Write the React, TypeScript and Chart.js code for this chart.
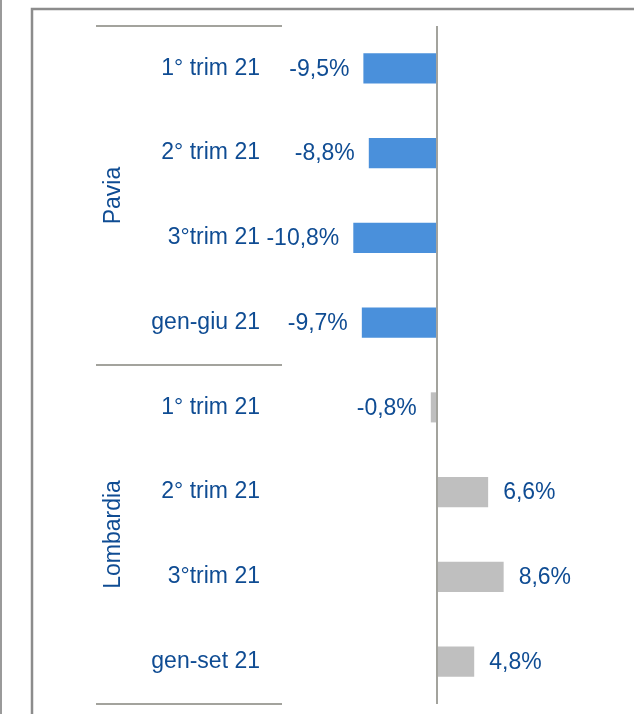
import React, { useEffect, useRef } from "react";
import { Chart, registerables } from "chart.js";

Chart.register(...registerables);

const categories = [
  "1° trim 21",
  "2° trim 21",
  "3°trim 21",
  "gen-giu 21",
  "1° trim 21",
  "2° trim 21",
  "3°trim 21",
  "gen-set 21",
];
const groups = ["Pavia", "Lombardia"];
const groupSizes = [4, 4];
const values = [-9.5, -8.8, -10.8, -9.7, -0.8, 6.6, 8.6, 4.8];

const FONT = '"Liberation Sans", Arial, sans-serif';
const TEXT = "#0F4C93";
const BLUE = "#4A90DB";
const GRAY = "#BFBFBF";
const LINE = "#A3A39D";

const fmt = (v: number) => v.toFixed(1).replace(".", ",") + "%";

const decorPlugin = {
  id: "decor",
  afterDatasetsDraw(chart: any) {
    const { ctx, chartArea, scales } = chart;
    const x = scales.x;
    const y = scales.y;
    ctx.save();
    // frame
    ctx.strokeStyle = "#8C8C8C";
    ctx.lineWidth = 2.5;
    ctx.beginPath();
    ctx.moveTo(32, 714);
    ctx.lineTo(32, 9);
    ctx.lineTo(634, 9);
    ctx.stroke();
    ctx.lineWidth = 2;
    ctx.strokeStyle = "#9A9A9A";
    ctx.beginPath();
    ctx.moveTo(1, 0);
    ctx.lineTo(1, 714);
    ctx.stroke();

    // zero line
    const x0 = x.getPixelForValue(0);
    ctx.strokeStyle = LINE;
    ctx.lineWidth = 2;
    ctx.beginPath();
    ctx.moveTo(x0, chartArea.top);
    ctx.lineTo(x0, chartArea.bottom);
    ctx.stroke();

    // group separators and labels
    const band = y.getPixelForValue(1) - y.getPixelForValue(0);
    let start = 0;
    const seps: number[] = [chartArea.top];
    ctx.font = `23px ${FONT}`;
    ctx.fillStyle = TEXT;
    groups.forEach((g, gi) => {
      const end = start + groupSizes[gi] - 1;
      const top = y.getPixelForValue(start) - band / 2;
      const bot = y.getPixelForValue(end) + band / 2;
      seps.push(bot);
      ctx.save();
      ctx.translate(114, (top + bot) / 2);
      ctx.rotate(-Math.PI / 2);
      ctx.textAlign = "center";
      ctx.textBaseline = "middle";
      ctx.fillText(g, 0, 0);
      ctx.restore();
      start = end + 1;
    });
    ctx.strokeStyle = LINE;
    ctx.lineWidth = 2;
    seps.forEach((sy) => {
      ctx.beginPath();
      ctx.moveTo(96, sy);
      ctx.lineTo(chartArea.left, sy);
      ctx.stroke();
    });

    // data labels
    const meta = chart.getDatasetMeta(0);
    ctx.textBaseline = "middle";
    meta.data.forEach((el: any, i: number) => {
      const v = values[i];
      if (v < 0) {
        ctx.textAlign = "right";
        ctx.fillText(fmt(v), el.x - 14, el.y + 1);
      } else {
        ctx.textAlign = "left";
        ctx.fillText(fmt(v), el.x + 15, el.y + 1);
      }
    });
    ctx.restore();
  },
};

export default function App() {
  const ref = useRef<HTMLCanvasElement>(null);
  useEffect(() => {
    if (!ref.current) return;
    const chart = new Chart(ref.current, {
      type: "bar",
      data: {
        labels: categories,
        datasets: [
          {
            data: values,
            backgroundColor: values.map((_, i) => (i < groupSizes[0] ? BLUE : GRAY)),
            borderWidth: 0,
            barPercentage: 0.355,
            categoryPercentage: 1,
          },
        ],
      },
      options: {
        indexAxis: "y",
        animation: false,
        responsive: false,
        layout: { padding: { top: 26, bottom: 10, right: 42, left: 0 } },
        plugins: { legend: { display: false }, tooltip: { enabled: false } },
        scales: {
          x: {
            min: -20,
            max: 20,
            display: false,
            grid: { display: false },
          },
          y: {
            grid: { display: false, drawTicks: false },
            border: { display: false },
            ticks: {
              font: { size: 23, family: FONT },
              color: TEXT,
              padding: 22,
            },
            afterFit: (scale: any) => {
              scale.width = 282;
              scale.paddingTop = 0;
              scale.paddingBottom = 0;
            },
          },
        },
      },
      plugins: [decorPlugin],
    });
    return () => chart.destroy();
  }, []);
  return (
    <div style={{ position: "absolute", left: 0, top: 0, width: 634, height: 714, background: "#fff" }}>
      <canvas ref={ref} width={634} height={714} style={{ display: "block" }} />
    </div>
  );
}
